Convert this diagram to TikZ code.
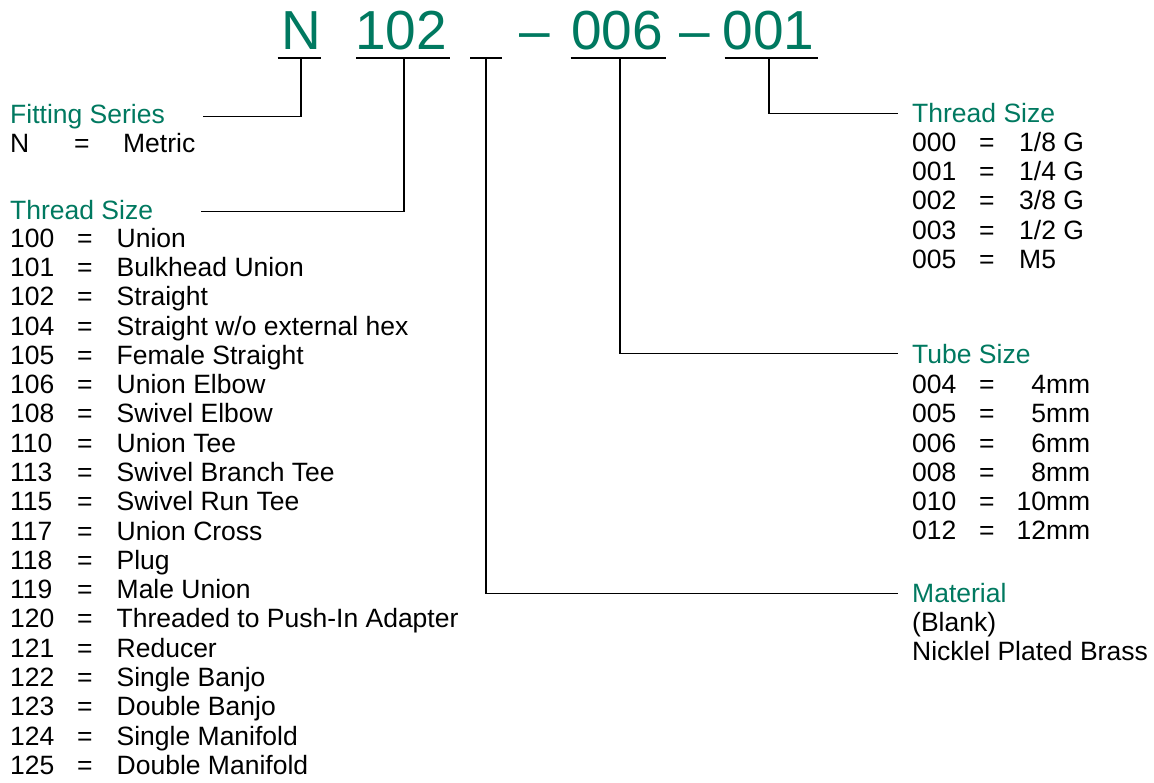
\documentclass[tikz,border=0pt]{standalone}
\usepackage{fontspec}
\setmainfont{Liberation Sans}
\definecolor{grn}{RGB}{0,121,96}
\begin{document}
\begin{tikzpicture}[x=1pt,y=-1pt,
  code/.style={font=\fontsize{55}{60}\selectfont, text=grn, inner sep=0, anchor=base},
  hdr/.style={font=\fontsize{26.5}{30}\selectfont, text=grn, inner sep=0, anchor=base west},
  row/.style={font=\fontsize{26.5}{30}\selectfont, text=black, inner sep=0, anchor=base west},
  ln/.style={line width=1.1pt, black}]
\useasboundingbox[fill=white] (0,0) rectangle (1154,783);
% code line
\node[code] (cN) at (301,50) {N};
\node[code] (c102) at (401,50) {102};
\node[code] (d1) at (534.5,50) {\char"2013};
\node[code] (c006) at (617,50) {006};
\node[code] (d2) at (694.5,50) {\char"2013};
\node[code] (c001) at (768.5,50) {001};
% underlines
\draw[ln] (277.6,58) -- (320.7,58);
\draw[ln] (356,58) -- (450,58);
\draw[ln] (470,58) -- (502,58);
\draw[ln] (570.7,58) -- (666,58);
\draw[ln] (724.5,58) -- (818,58);
\coordinate (tN) at (301,58);
\coordinate (t102) at (404,58);
\coordinate (tB) at (486,58);
\coordinate (t006) at (620,58);
\coordinate (t001) at (769,58);
% left: fitting series
\node[hdr] (fs) at (10,123.3) {Fitting Series};
\node[row] (fsN) at (10,152.7) {\makebox[64pt][l]{N}\makebox[49pt][l]{=}Metric};
% left: thread size
\node[hdr] (tsl) at (10,219.3) {Thread Size};
\foreach \c/\d [count=\i from 0] in {100/{Union},101/{Bulkhead Union},102/{Straight},104/{Straight w/o external hex},105/{Female Straight},106/{Union Elbow},108/{Swivel Elbow},110/{Union Tee},113/{Swivel Branch Tee},115/{Swivel Run Tee},117/{Union Cross},118/{Plug},119/{Male Union},120/{Threaded to Push-In Adapter},121/{Reducer},122/{Single Banjo},123/{Double Banjo},124/{Single Manifold},125/{Double Manifold}}
  \node[row] (l\c) at (10,247.3+29.28*\i) {\makebox[67pt][l]{\c}\makebox[39.5pt][l]{=}\d};
% right: thread size
\node[hdr] (tsr) at (912,122.3) {Thread Size};
\foreach \c/\d [count=\i from 0] in {000/{1/8 G},001/{1/4 G},002/{3/8 G},003/{1/2 G},005/{M5}}
  \node[row] (r\c) at (912,151.7+29.15*\i) {\makebox[67pt][l]{\c}\makebox[40pt][l]{=}\d};
% right: tube size
\node[hdr] (tube) at (912,363.3) {Tube Size};
\foreach \c/\d [count=\i from 0] in {004/{4mm},005/{5mm},006/{6mm},008/{8mm},010/{10mm},012/{12mm}}
  \node[row] (tb\c) at (912,394+29*\i) {\makebox[67pt][l]{\c}\makebox[39pt][l]{=}\makebox[72pt][r]{\d}};
% right: material
\node[hdr] (mat) at (912,602.7) {Material};
\node[row] (mat1) at (912,631.7) {(Blank)};
\node[row] (mat2) at (912,660.5) {Nicklel Plated Brass};
% connector ends
\coordinate (eFS) at (203,116.7);
\coordinate (eTSL) at (201,211.7);
\coordinate (eTSR) at (898,113.3);
\coordinate (eTube) at (898,353.3);
\coordinate (eMat) at (898,593.3);
\draw[ln] (tN) |- (eFS);
\draw[ln] (t102) |- (eTSL);
\draw[ln] (tB) |- (eMat);
\draw[ln] (t006) |- (eTube);
\draw[ln] (t001) |- (eTSR);
\end{tikzpicture}
\end{document}
